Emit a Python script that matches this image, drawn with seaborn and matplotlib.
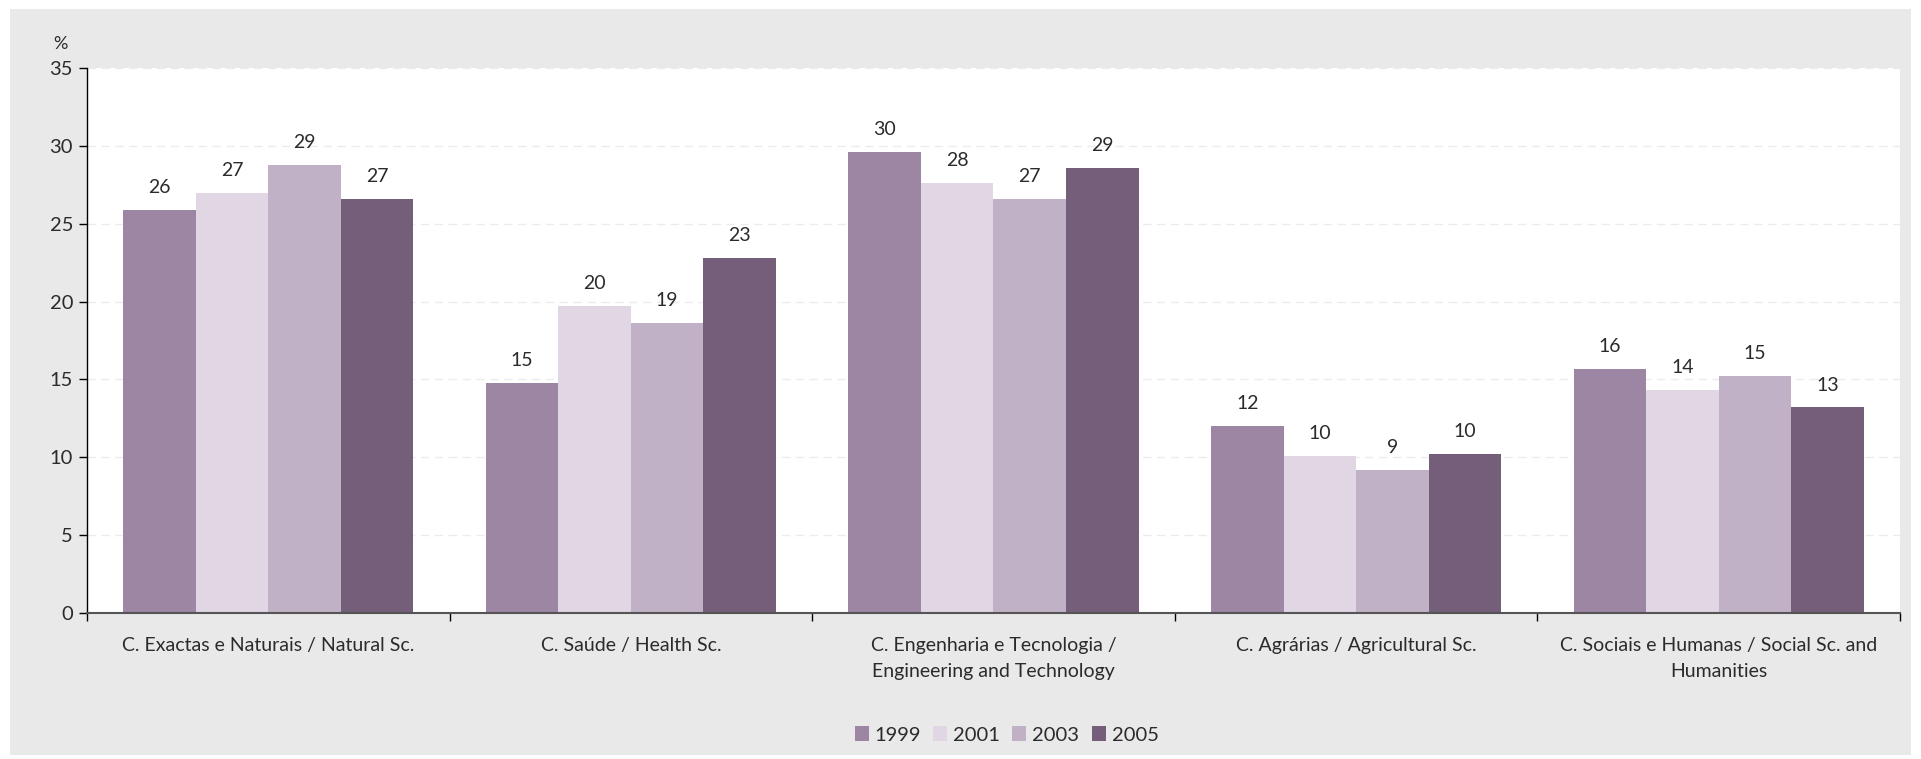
import pandas as pd
import numpy as np
import matplotlib.pyplot as plt
import seaborn as sns
import matplotlib.patches as mpatches

categories = ['C. Exactas e Naturais / Natural Sc.',
              'C. Saúde / Health Sc.',
              'C. Engenharia e Tecnologia /\nEngineering and Technology',
              'C. Agrárias / Agricultural Sc.',
              'C. Sociais e Humanas / Social Sc. and\nHumanities']
years = ['1999', '2001', '2003', '2005']

values_1999 = [25.9, 14.8, 29.6, 12.0, 15.7]
values_2001 = [27.0, 19.7, 27.6, 10.1, 14.3]
values_2003 = [28.8, 18.6, 26.6, 9.2, 15.2]
values_2005 = [26.6, 22.8, 28.6, 10.2, 13.2]

year_colors = ['#9d85a4', '#e1d6e4', '#c1b1c6', '#745e7a']

data = pd.DataFrame({
    'area': categories * 4,
    'year': [y for y in years for _ in categories],
    'value': values_1999 + values_2001 + values_2003 + values_2005,
})

sns.set_theme(style='white')
plt.rcParams['font.family'] = ['Lato', 'DejaVu Sans']
text_color = '#2b2b2b'

fig = plt.figure(figsize=(19.21, 7.59), dpi=100, facecolor='white')
fig.patches.append(mpatches.Rectangle((10 / 1921, 4 / 759), 1901 / 1921, 746 / 759,
                                      transform=fig.transFigure, facecolor='#e9e9e9',
                                      edgecolor='none', zorder=-10))
ax = fig.add_axes([87 / 1921, 1 - 613 / 759, (1900 - 87) / 1921, (613 - 68) / 759])
ax.set_facecolor('white')

sns.barplot(data=data, x='area', y='value', hue='year', palette=year_colors,
            width=0.8, saturation=1, ax=ax, legend=False, linewidth=0, edgecolor='none')

for container in ax.containers:
    ax.bar_label(container, fmt='%.0f', padding=10, fontsize=14, color=text_color)

ax.set_ylim(0, 35)
ax.set_yticks(range(0, 36, 5))
ax.set_xlim(-0.5, 4.5)
ax.set_xlabel('')
ax.set_ylabel('')
ax.yaxis.grid(True, linestyle=(0, (6, 4)), color='#ececec', linewidth=1)
ax.set_axisbelow(True)

for side in ['top', 'right']:
    ax.spines[side].set_visible(False)
ax.spines['left'].set_color('black')
ax.spines['left'].set_linewidth(1)
ax.spines['bottom'].set_color('#555555')
ax.spines['bottom'].set_linewidth(1.5)

ax.tick_params(axis='y', left=True, length=6, width=1, color='black',
               labelsize=14.5, labelcolor=text_color, pad=4)
ax.set_xticks(np.arange(-0.5, 5, 1), minor=True)
ax.tick_params(axis='x', which='major', length=0, labelsize=14, labelcolor=text_color, pad=17)
ax.tick_params(axis='x', which='minor', bottom=True, length=6, width=1, color='black')
for label in ax.get_xticklabels():
    label.set_linespacing(1.7)

ax.text(-0.0145, 1.044, '%', transform=ax.transAxes, ha='center', va='center',
        fontsize=13, color=text_color)

handles = [mpatches.Patch(facecolor=c, edgecolor='none', label=y) for c, y in zip(year_colors, years)]
fig.legend(handles=handles, loc='center', bbox_to_anchor=(0.524, 1 - 735 / 759), ncol=4,
           frameon=False, fontsize=14.5, handlelength=0.7, handleheight=0.7,
           handletextpad=0.3, columnspacing=0.6, labelcolor=text_color)

plt.savefig('out.png', dpi=100, facecolor=fig.get_facecolor())
